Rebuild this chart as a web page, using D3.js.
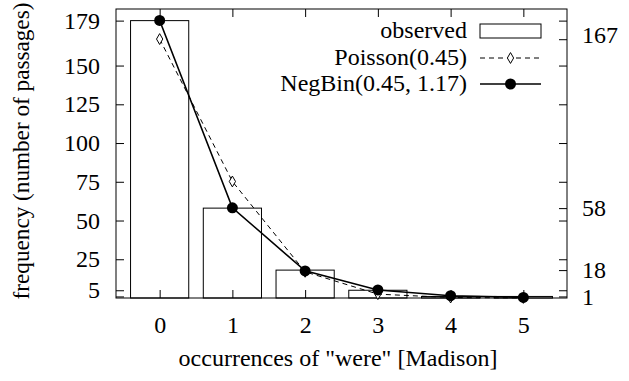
<!DOCTYPE html>
<html>
<head>
<meta charset="utf-8">
<script src="https://cdn.jsdelivr.net/npm/d3@7"></script>
</head>
<body style="margin:0;background:#fff">
<div id="chart"></div>
<script>
const width = 629, height = 381;
const margin = {top: 9, right: 62, bottom: 83, left: 116};
const plotW = width - margin.left - margin.right;
const plotH = height - margin.top - margin.bottom;
const FONT = "Liberation Serif";
const FONT_SIZE = 24;

// data
const counts = [0, 1, 2, 3, 4, 5];
const observed = [179, 58, 18, 5, 1, 1];
const poisson = [167.1, 75.2, 16.9, 2.5, 0.3, 0.03];
const negbin = [179.1, 58.2, 17.5, 5.2, 1.5, 0.4];
const yTicks = [179, 150, 125, 100, 75, 50, 25, 5];
const y2Ticks = [167, 58, 18, 1];
const legendLabels = ["observed", "Poisson(0.45)", "NegBin(0.45, 1.17)"];

const svg = d3.select("#chart").append("svg")
    .attr("width", width)
    .attr("height", height);

const g = svg.append("g")
    .attr("transform", `translate(${margin.left},${margin.top})`);

const x = d3.scaleLinear().domain([-0.6, 5.6]).range([0, plotW]);
const y = d3.scaleLinear().domain([0, 186.5]).range([plotH, 0]);

const barW = x(0.8) - x(0);
const tickLen = 8;

// bars
g.selectAll(".bar")
    .data(counts)
  .enter().append("rect")
    .attr("class", "bar")
    .attr("x", d => x(d) - barW / 2)
    .attr("y", (d, i) => y(observed[i]))
    .attr("width", barW)
    .attr("height", (d, i) => y(0) - y(observed[i]))
    .attr("fill", "#fff")
    .attr("stroke", "#000")
    .attr("stroke-width", 1);

// axes: gnuplot style, ticks pointing inward, mirrored
g.append("g").attr("transform", `translate(0,${plotH})`)
    .call(d3.axisBottom(x).tickValues(counts).tickFormat(d3.format("d"))
    .tickSizeInner(-tickLen).tickSizeOuter(0).tickPadding(18));

g.append("g").call(d3.axisTop(x).tickValues(counts).tickFormat("")
    .tickSizeInner(-tickLen).tickSizeOuter(0));

g.append("g").call(d3.axisLeft(y).tickValues(yTicks.concat([1])).tickFormat(d => d === 1 ? "" : d)
    .tickSizeInner(-tickLen).tickSizeOuter(0).tickPadding(16));

g.append("g").attr("transform", `translate(${plotW},0)`)
    .call(d3.axisRight(y).tickValues(yTicks).tickFormat("")
    .tickSizeInner(-tickLen).tickSizeOuter(0));

g.append("g").attr("class", "y2").attr("transform", `translate(${plotW},0)`)
    .call(d3.axisRight(y).tickValues(y2Ticks)
    .tickSizeInner(-tickLen).tickSizeOuter(0).tickPadding(15));

g.selectAll(".domain").remove();
g.selectAll(".tick line").attr("stroke", "#000");
// the top y2 label sits a little higher in the original
g.selectAll(".y2 .tick text").attr("dy", d => d === 167 ? "0.15em" : "0.32em");

// frame
g.append("rect")
    .attr("width", plotW).attr("height", plotH)
    .attr("fill", "none").attr("stroke", "#000").attr("stroke-width", 1);

// Poisson line
const line = vals => d3.line().x((d, i) => x(d)).y((d, i) => y(vals[i]))(counts);

g.append("path")
    .attr("d", line(poisson))
    .attr("fill", "none").attr("stroke", "#000").attr("stroke-width", 1)
    .attr("stroke-dasharray", "5,4");

const diamond = d3.symbol().type(d3.symbolDiamond).size(34);
g.selectAll(".pois")
    .data(counts)
  .enter().append("path")
    .attr("d", diamond)
    .attr("transform", (d, i) => `translate(${x(d)},${y(poisson[i])})`)
    .attr("fill", "#fff").attr("stroke", "#000").attr("stroke-width", 1);

// NegBin line
g.append("path")
    .attr("d", line(negbin))
    .attr("fill", "none").attr("stroke", "#000").attr("stroke-width", 1.6);

g.selectAll(".nb")
    .data(counts)
  .enter().append("circle")
    .attr("cx", d => x(d))
    .attr("cy", (d, i) => y(negbin[i]))
    .attr("r", 5.5)
    .attr("fill", "#000");

// legend
const legX = 467 - margin.left, sampleX0 = 480 - margin.left, sampleX1 = 541 - margin.left;
const rowY = [31 - margin.top, 58 - margin.top, 84 - margin.top];
const leg = g.append("g");
legendLabels.forEach((lab, i) => {
  leg.append("text")
      .attr("x", legX).attr("y", rowY[i] + 7)
      .attr("text-anchor", "end")
      .text(lab);
});
leg.append("rect")
    .attr("x", sampleX0).attr("y", rowY[0] - 7)
    .attr("width", sampleX1 - sampleX0).attr("height", 14)
    .attr("fill", "#fff").attr("stroke", "#000");
leg.append("line")
    .attr("x1", sampleX0).attr("x2", sampleX1).attr("y1", rowY[1]).attr("y2", rowY[1])
    .attr("stroke", "#000").attr("stroke-dasharray", "5,4");
leg.append("path")
    .attr("d", diamond)
    .attr("transform", `translate(${(sampleX0 + sampleX1) / 2},${rowY[1]})`)
    .attr("fill", "#fff").attr("stroke", "#000");
leg.append("line")
    .attr("x1", sampleX0).attr("x2", sampleX1).attr("y1", rowY[2]).attr("y2", rowY[2])
    .attr("stroke", "#000").attr("stroke-width", 1.6);
leg.append("circle")
    .attr("cx", (sampleX0 + sampleX1) / 2).attr("cy", rowY[2]).attr("r", 5.5)
    .attr("fill", "#000");

// axis titles
svg.append("text")
    .attr("x", 338).attr("y", 366)
    .attr("text-anchor", "middle")
    .text('occurrences of "were" [Madison]');

// one font for every label
svg.selectAll("text")
    .attr("font-family", FONT)
    .attr("font-size", FONT_SIZE)
    .attr("fill", "#000");

// y title, a hair smaller so it fits the page height
svg.append("text")
    .attr("transform", "translate(29,151) rotate(-90)")
    .attr("text-anchor", "middle")
    .attr("font-family", FONT)
    .attr("font-size", 23.2)
    .attr("fill", "#000")
    .text("frequency (number of passages)");
</script>
</body>
</html>
